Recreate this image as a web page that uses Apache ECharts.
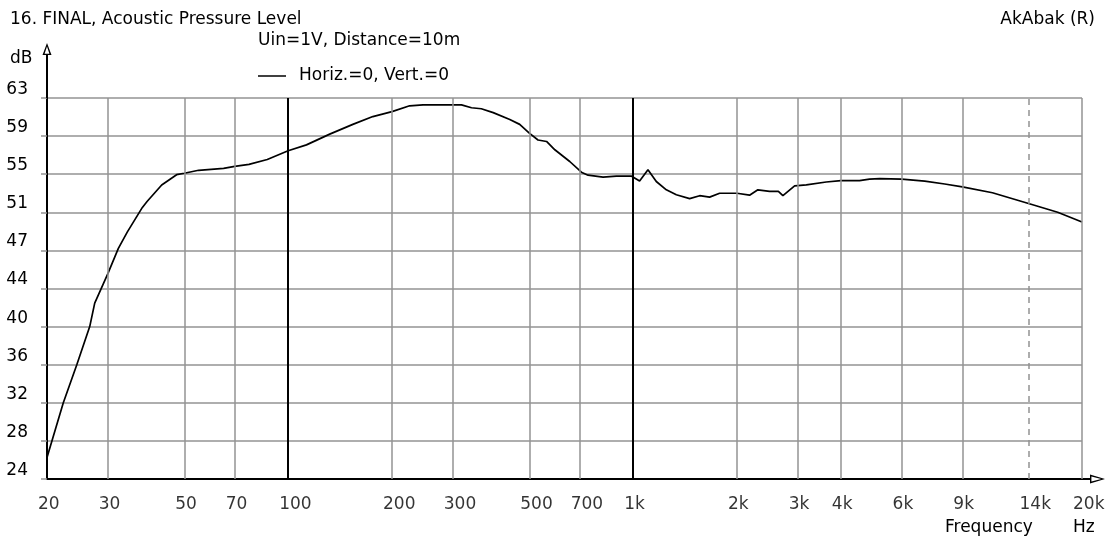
<!DOCTYPE html>
<html>
<head>
<meta charset="utf-8">
<title>16. FINAL, Acoustic Pressure Level</title>
<script src="https://cdn.jsdelivr.net/npm/echarts@6.0.0/dist/echarts.min.js"></script>
<style>
  html, body { margin: 0; padding: 0; background: #fff; }
  #chart { width: 1114px; height: 537px; }
</style>
</head>
<body>
<div id="chart"></div>
<script>
// Frequency response, Horiz.=0, Vert.=0 (Uin=1V, Distance=10m)
const freqHz = [20, 22.3, 24.4, 26.6, 27.5, 30, 32.2, 34.2, 37.8, 39,
  43, 47.5, 50, 55, 65, 70, 77, 87, 100, 113,
  132, 154, 176, 200, 225, 246, 275, 295, 318, 340,
  363, 393, 439, 469, 500, 530, 561, 593, 655, 708,
  740, 818, 894, 990, 1044, 1104, 1167, 1248, 1334, 1458,
  1559, 1666, 1781, 2000, 2175, 2299, 2486, 2636, 2717, 2938,
  3176, 3628, 4000, 4531, 4845, 5186, 6000, 7000, 8000, 9000,
  11000, 14000, 17000, 20000];
const levelDb = [26.2, 31.8, 35.7, 39.6, 42.0, 45.0, 47.6, 49.3, 51.8, 52.4,
  54.1, 55.15, 55.3, 55.6, 55.8, 56.0, 56.2, 56.7, 57.6, 58.2,
  59.3, 60.3, 61.1, 61.6, 62.2, 62.3, 62.3, 62.3, 62.3, 62.0,
  61.9, 61.5, 60.8, 60.3, 59.4, 58.7, 58.55, 57.7, 56.5, 55.4,
  55.1, 54.9, 55.0, 55.0, 54.5, 55.65, 54.45, 53.6, 53.1, 52.7,
  53.0, 52.85, 53.25, 53.25, 53.05, 53.6, 53.45, 53.45, 53.0, 54.0,
  54.1, 54.4, 54.55, 54.55, 54.7, 54.75, 54.7, 54.5, 54.2, 53.9,
  53.3, 52.2, 51.3, 50.3];

// Level axis: 10 equal divisions between 24 and 63 dB
const yTickValues = [24, 27.9, 31.8, 35.7, 39.6, 43.5, 47.4, 51.3, 55.2, 59.1, 63];
const yTickLabels = ['24', '28', '32', '36', '40', '44', '47', '51', '55', '59', '63'];

// Frequency axis marks
const xTickFreqs = [20, 30, 50, 70, 100, 200, 300, 500, 700, 1000, 2000, 3000, 4000, 6000, 9000, 14000, 20000];
const xTickLabels = ['20', '30', '50', '70', '100', '200', '300', '500', '700', '1k', '2k', '3k', '4k', '6k', '9k', '14k', '20k'];
const decadeFreqs = [100, 1000];
const dashedFreqs = [14000];

const FONT = '"DejaVu Sans", "Liberation Sans", sans-serif';
const GRID_GRAY = '#939393';
const FS = 17;

// Hollow arrow heads with a stem, pointing up (the axis rotates them)
const arrowX = 'path://M4.5 0 L9 15 L0 15 Z M4.5 3.8 L2.1 13.6 L6.9 13.6 Z M3.5 15 L5.5 15 L5.5 23 L3.5 23 Z';
const arrowY = 'path://M4.5 0 L9 12 L0 12 Z M4.5 3.4 L2.1 10.7 L6.9 10.7 Z M3.5 12 L5.5 12 L5.5 55 L3.5 55 Z';

const chart = echarts.init(document.getElementById('chart'), null, { renderer: 'canvas' });

const gridLineData = xTickFreqs.filter(f => f !== 20).map(f => {
  let lineStyle = { color: GRID_GRAY, width: 1.5, type: 'solid' };
  if (decadeFreqs.includes(f)) lineStyle = { color: '#000', width: 2, type: 'solid' };
  if (dashedFreqs.includes(f)) lineStyle = { color: GRID_GRAY, width: 1.5, type: [6, 5] };
  return { xAxis: f, lineStyle: lineStyle };
});

function yLabel(v) {
  const i = yTickValues.findIndex(t => Math.abs(t - v) < 1e-6);
  return i >= 0 ? yTickLabels[i] : '';
}

chart.setOption({
  animation: false,
  backgroundColor: '#fff',
  textStyle: { fontFamily: FONT },
  grid: { left: 47, right: 32, top: 98, bottom: 58, containLabel: false, outerBoundsMode: 'none' },
  xAxis: {
    type: 'log',
    logBase: 10,
    min: 20,
    max: 20000,
    axisLine: {
      onZero: false,
      lineStyle: { color: '#000', width: 2 },
      symbol: ['none', arrowX],
      symbolSize: [9, 23],
      symbolOffset: [0, 11.5]
    },
    axisTick: { show: false },
    axisLabel: { show: false },
    splitLine: { show: false },
    minorTick: { show: false },
    minorSplitLine: { show: false }
  },
  yAxis: {
    type: 'value',
    min: 24,
    max: 63,
    axisLine: {
      show: true,
      onZero: false,
      lineStyle: { color: '#000', width: 2 },
      symbol: ['none', arrowY],
      symbolSize: [9, 55],
      symbolOffset: [0, 27.5]
    },
    axisTick: {
      show: true,
      inside: false,
      length: 6,
      customValues: yTickValues,
      lineStyle: { color: GRID_GRAY, width: 1.5 }
    },
    axisLabel: {
      customValues: yTickValues,
      formatter: yLabel,
      margin: 19,
      color: '#000',
      fontFamily: FONT,
      fontSize: FS,
      verticalAlign: 'bottom',
      lineHeight: 17
    },
    splitLine: { show: true, lineStyle: { color: GRID_GRAY, width: 1.5 } }
  },
  series: [
    {
      name: 'Frequency marks',
      type: 'scatter',
      z: 2,
      silent: true,
      clip: false,
      symbolSize: 0.1,
      itemStyle: { color: 'transparent' },
      data: xTickFreqs.map(f => [f, 24]),
      label: {
        show: true,
        position: 'bottom',
        distance: 0,
        offset: [-9, 17],
        align: 'left',
        color: '#000',
        fontFamily: FONT,
        fontSize: FS,
        formatter: p => xTickLabels[p.dataIndex]
      },
      markLine: {
        silent: true,
        animation: false,
        symbol: ['none', 'none'],
        label: { show: false },
        emphasis: { disabled: true },
        data: gridLineData
      }
    },
    {
      name: 'Horiz.=0, Vert.=0',
      type: 'line',
      z: 4,
      showSymbol: false,
      silent: true,
      lineStyle: { color: '#000', width: 1.7 },
      data: freqHz.map((f, i) => [f, levelDb[i]])
    }
  ],
  graphic: [
    { type: 'text', x: 10, y: 20, style: { text: '16. FINAL, Acoustic Pressure Level', font: FS + 'px ' + FONT, fill: '#000', textAlign: 'left', textVerticalAlign: 'middle' } },
    { type: 'text', x: 1095, y: 20, style: { text: 'AkAbak (R)', font: FS + 'px ' + FONT, fill: '#000', textAlign: 'right', textVerticalAlign: 'middle' } },
    { type: 'text', x: 258, y: 41, style: { text: 'Uin=1V, Distance=10m', font: FS + 'px ' + FONT, fill: '#000', textAlign: 'left', textVerticalAlign: 'middle' } },
    { type: 'line', shape: { x1: 258, y1: 76, x2: 286, y2: 76 }, style: { stroke: '#000', lineWidth: 1.5 } },
    { type: 'text', x: 299, y: 76, style: { text: 'Horiz.=0, Vert.=0', font: FS + 'px ' + FONT, fill: '#000', textAlign: 'left', textVerticalAlign: 'middle' } },
    { type: 'text', x: 10, y: 59, style: { text: 'dB', font: FS + 'px ' + FONT, fill: '#000', textAlign: 'left', textVerticalAlign: 'middle' } },
    { type: 'text', x: 945, y: 528, style: { text: 'Frequency', font: FS + 'px ' + FONT, fill: '#000', textAlign: 'left', textVerticalAlign: 'middle' } },
    { type: 'text', x: 1073, y: 528, style: { text: 'Hz', font: FS + 'px ' + FONT, fill: '#000', textAlign: 'left', textVerticalAlign: 'middle' } }
  ]
});
</script>
</body>
</html>
